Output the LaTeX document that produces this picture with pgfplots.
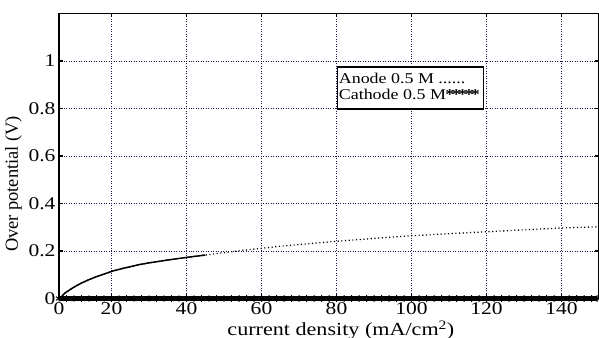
\documentclass[border=0pt]{standalone}
\usepackage{fontspec}
\setmainfont[FakeStretch=1.2]{Liberation Serif}
\newfontfamily\ylabfont{Liberation Serif}
\usepackage{pgfplots}
\usepackage{pgfplotstable}
\pgfplotsset{compat=1.18}
\definecolor{gridc}{rgb}{0.1,0.1,0.3}

\pgfplotstableread{
x y
6.2 0
7.5 0.022
9 0.038
10.2 0.050
12 0.065
13.8 0.078
15.5 0.089
17.3 0.099
20.4 0.116
23.1 0.127
27.5 0.143
30 0.150
35 0.162
40 0.173
45 0.183
51.5 0.196
55 0.203
60 0.211
65 0.220
70 0.227
80 0.241
90 0.253
100 0.264
110 0.273
120 0.281
130 0.289
140 0.297
150 0.302
}\anode

\begin{document}
\begin{tikzpicture}
\begin{axis}[
  scale only axis, width=540bp, height=285bp,
  xmin=6, xmax=150, ymin=0, ymax=1.2,
  xtick={6,20,40,60,80,100,120,140},
  xticklabels={0,20,40,60,80,100,120,140},
  ytick={0,0.2,0.4,0.6,0.8,1},
  yticklabels={0,0.2,0.4,0.6,0.8,1},
  tick align=inside, tick pos=both,
  major tick length=4bp,
  every tick/.style={black, line width=1.2pt},
  axis line style={black, line width=1.6pt},
  grid=major,
  major grid style={gridc, line width=0.8pt, dash pattern=on 0.9pt off 1.6pt},
  ticklabel style={font=\fontsize{18}{20}\selectfont},
  xticklabel style={yshift=-1bp},
  /pgf/number format/assume math mode=true,
  xlabel={current density (mA/cm\textsuperscript{2})},
  ylabel={Over potential (V)},
  xlabel style={font=\fontsize{18.5}{20}\selectfont, at={(ticklabel cs:0.522)}, inner sep=0pt, yshift=-2bp},
  ylabel style={font=\ylabfont\fontsize{18.5}{20}\selectfont, at={(ticklabel cs:0.402)}},
  clip=false,
  legend cell align=left,
  legend style={at={(rel axis cs:0.514,0.815)}, anchor=north west, draw=black, line width=1.6pt,
    font=\fontsize{15}{16}\selectfont, inner xsep=0.5pt, inner ysep=5.5pt, row sep=0pt,
    column sep=0pt,
    nodes={inner xsep=1pt, inner ysep=0pt, text height=11pt, text depth=4.7pt}},
  legend image code/.code={},
]
\addplot[black, line width=1.3pt, dash pattern=on 1.1pt off 2.6pt]
  table[x=x, y=y] {\anode};
\addlegendentry{Anode 0.5 M ......}
\addplot[black, line width=1.5pt, forget plot, restrict x to domain=6:48] table[x=x, y=y] {\anode};
\addplot[black, line width=5.5pt, mark=asterisk, mark size=3.5pt, mark options={line width=1pt, solid}]
  coordinates {
  (6,0) (8,0) (10,0) (12,0) (14,0) (16,0) (18,0) (20,0) (22,0) (24,0)
  (26,0) (28,0) (30,0) (32,0) (34,0) (36,0) (38,0) (40,0) (42,0) (44,0)
  (46,0) (48,0) (50,0) (52,0) (54,0) (56,0) (58,0) (60,0) (62,0) (64,0)
  (66,0) (68,0) (70,0) (72,0) (74,0) (76,0) (78,0) (80,0) (82,0) (84,0)
  (86,0) (88,0) (90,0) (92,0) (94,0) (96,0) (98,0) (100,0) (102,0) (104,0)
  (106,0) (108,0) (110,0) (112,0) (114,0) (116,0) (118,0) (120,0) (122,0) (124,0)
  (126,0) (128,0) (130,0) (132,0) (134,0) (136,0) (138,0) (140,0) (142,0) (144,0)
  (146,0) (148,0) (149.5,0)
  };
\addlegendentry{\makebox[143bp][l]{Cathode 0.5 M\kern-0.5pt\textbf{*\kern-2.6pt*\kern-2.6pt*\kern-2.6pt*\kern-2.6pt*}}}
\end{axis}
\pgfresetboundingbox
\path ([xshift=-59bp, yshift=-39.5bp]current axis.south west) rectangle ([yshift=13.5bp]current axis.north east);
\end{tikzpicture}
\end{document}
